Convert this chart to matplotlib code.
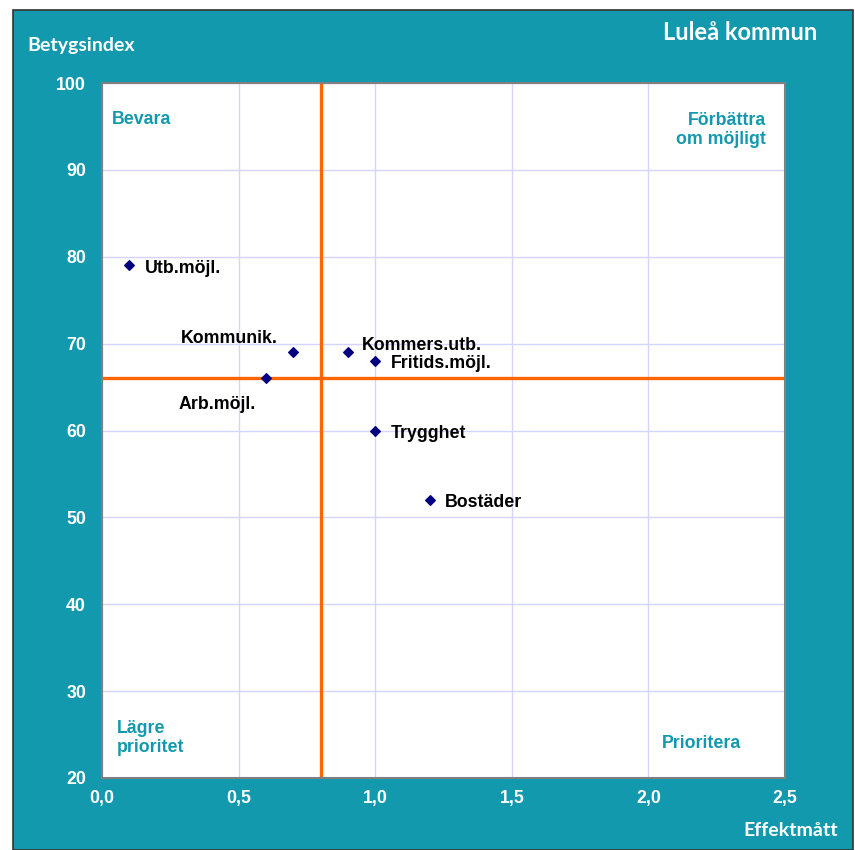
import matplotlib.pyplot as plt
from matplotlib.patches import Rectangle

# data
labels = ["Utb.möjl.", "Kommunik.", "Arb.möjl.", "Kommers.utb.", "Fritids.möjl.", "Trygghet", "Bostäder"]
effekt = [0.1, 0.7, 0.6, 0.9, 1.0, 1.0, 1.2]
betyg = [79, 69, 66, 69, 68, 60, 52]
x_ticks = [0.0, 0.5, 1.0, 1.5, 2.0, 2.5]
y_ticks = [20, 30, 40, 50, 60, 70, 80, 90, 100]
x_split = 0.8
y_split = 66

TEAL = "#1399ae"
W, H = 855, 850

fig = plt.figure(figsize=(W / 100, H / 100), dpi=100, facecolor="white")
fig.patches.append(Rectangle((13 / W, 0), 840 / W, 1 - 10 / H, transform=fig.transFigure,
                             facecolor=TEAL, edgecolor="#333333", lw=1.2, zorder=-10))

ax = fig.add_axes([102 / W, 1 - 778 / H, 683 / W, 695 / H])
ax.set_facecolor("white")
ax.set_xlim(0, 2.5)
ax.set_ylim(20, 100)
ax.set_xticks(x_ticks)
ax.set_yticks(y_ticks)
ax.set_xticklabels([f"{t:.1f}".replace(".", ",") for t in x_ticks])
ax.grid(True, color="#d4d4ff", lw=1)
ax.set_axisbelow(True)
for s in ax.spines.values():
    s.set_color("#808080")
    s.set_linewidth(1.5)
ax.tick_params(length=0, labelcolor="white", labelsize=12.8)
ax.tick_params(axis="y", pad=11.5)
ax.tick_params(axis="x", pad=9)
for lab in ax.get_xticklabels() + ax.get_yticklabels():
    lab.set_fontweight("bold")
    lab.set_family("Liberation Sans")

ax.axvline(x_split, color="#ff6600", lw=2.4, zorder=2)
ax.axhline(y_split, color="#ff6600", lw=2.4, zorder=2)
ax.scatter(effekt, betyg, marker="D", s=24, color="#000080", zorder=3)

# label offsets in points
offsets = {
    "Utb.möjl.": (11, -2, "left"),
    "Kommunik.": (-11, 10, "right"),
    "Arb.möjl.": (-35, -19, "center"),
    "Kommers.utb.": (10, 5, "left"),
    "Fritids.möjl.": (11, -1.5, "left"),
    "Trygghet": (11, -2, "left"),
    "Bostäder": (11, -2, "left"),
}
for lab, x, y in zip(labels, effekt, betyg):
    dx, dy, ha = offsets[lab]
    ax.annotate(lab, (x, y), xytext=(dx, dy), textcoords="offset points",
                ha=ha, va="center", fontsize=12.8, fontweight="bold",
                family="Liberation Sans", color="black")

qkw = dict(transform=ax.transAxes, color=TEAL, fontsize=12.8, fontweight="bold",
           family="Liberation Sans")
ax.text(10 / 683, 1 - 36 / 695, "Bevara", ha="left", va="center", **qkw)
ax.text(664 / 683, 1 - 47 / 695, "Förbättra\nom möjligt", ha="right", va="center",
        multialignment="right", **qkw)
ax.text(15 / 683, 1 - 655 / 695, "Lägre\nprioritet", ha="left", va="center", **qkw)
ax.text(560 / 683, 1 - 660 / 695, "Prioritera", ha="left", va="center", **qkw)

fig.text(27 / W, 1 - 46 / H, "Betygsindex", ha="left", va="center", color="white",
         fontsize=14, fontweight="bold", family="Lato")
fig.text(838 / W, 1 - 830 / H, "Effektmått", ha="right", va="center", color="white",
         fontsize=14, fontweight="bold", family="Lato")
fig.text(817 / W, 1 - 32 / H, "Luleå kommun", ha="right", va="center", color="white",
         fontsize=17, fontweight="bold", family="Lato")

fig.savefig("out.png", dpi=100, facecolor=fig.get_facecolor())
